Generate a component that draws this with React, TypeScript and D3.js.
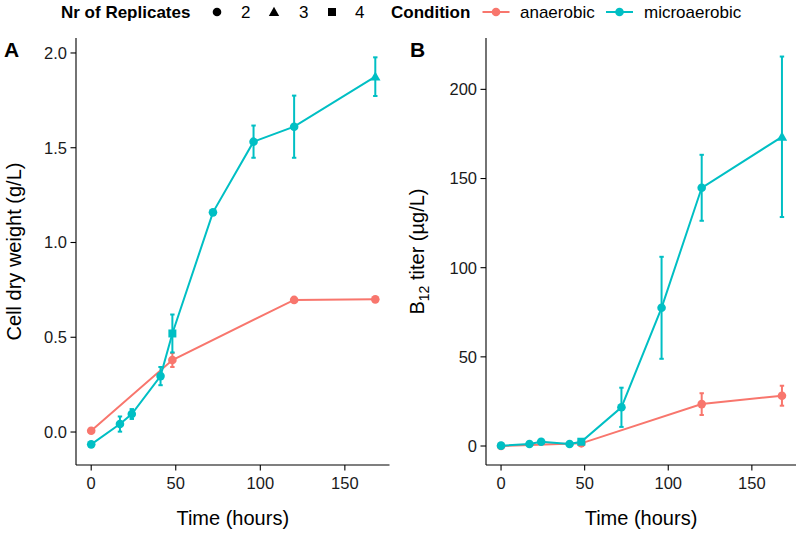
import React from "react";
import * as d3 from "d3";

// ---- data ----
const timesMicro = [0, 17, 24, 41, 48, 72, 96, 120, 168];
const timesAnaer = [0, 48, 120, 168];
const repsMicro = [2, 2, 2, 2, 4, 2, 2, 2, 3];
const repsAnaer = [2, 2, 2, 2];

const cdwMicro = [-0.065, 0.042, 0.095, 0.295, 0.52, 1.159, 1.532, 1.611, 1.875];
const cdwMicroErr = [0.005, 0.04, 0.026, 0.048, 0.1, 0.006, 0.085, 0.164, 0.102];
const cdwAnaer = [0.007, 0.38, 0.697, 0.7];
const cdwAnaerErr = [0.004, 0.037, 0.005, 0.007];

const b12Micro = [0.2, 1.1, 2.4, 1.1, 2.4, 21.7, 77.5, 144.8, 173.4];
const b12MicroErr = [0.3, 0.5, 0.8, 0.5, 0.8, 11, 28.6, 18.5, 45];
const b12Anaer = [0, 1.5, 23.5, 28.2];
const b12AnaerErr = [0.2, 0.5, 6.1, 5.6];

const xTicks = [0, 50, 100, 150];
const yTicksA = [0, 0.5, 1.0, 1.5, 2.0];
const yTicksB = [0, 50, 100, 150, 200];

const conditions = ["anaerobic", "microaerobic"];
const replicateLevels = [2, 3, 4];

const COLORS: Record<string, string> = { anaerobic: "#F8766D", microaerobic: "#00BFC4" };
const FONT = "'Liberation Sans', Arial, Helvetica, sans-serif";

type Pt = { t: number; v: number; e: number; r: number };

function build(ts: number[], vs: number[], es: number[], rs: number[]): Pt[] {
  return ts.map((t, i) => ({ t, v: vs[i], e: es[i], r: rs[i] }));
}

function Shape({ r, x, y, color }: { r: number; x: number; y: number; color: string }) {
  if (r === 3) {
    const s = 5.2;
    const p = `M${x},${y - s}L${x + s},${y + s * 0.75}L${x - s},${y + s * 0.75}Z`;
    return <path d={p} fill={color} />;
  }
  if (r === 4) {
    return <rect x={x - 4} y={y - 4} width={8} height={8} fill={color} />;
  }
  return <circle cx={x} cy={y} r={4.3} fill={color} />;
}

function Panel(props: {
  x0: number; x1: number; yDomain: [number, number]; yTicks: number[];
  fmt: (v: number) => string; series: { cond: string; pts: Pt[] }[];
  tag: string; tagX: number; titleX: number; title: React.ReactNode;
}) {
  const { x0, x1, yDomain, yTicks, fmt, series, tag, tagX, titleX, title } = props;
  const top = 38, bottom = 465;
  const x = d3.scaleLinear().domain([-8.4, 176.4]).range([x0, x1]);
  const y = d3.scaleLinear().domain(yDomain).range([bottom, top]);
  const line = d3.line<Pt>().x(d => x(d.t)).y(d => y(d.v));
  const axisX = x0 - 1;
  return (
    <g>
      <text x={tagX} y={57} fontFamily={FONT} fontWeight="bold" fontSize={21}>{tag}</text>
      {/* axes */}
      <line x1={axisX} x2={axisX} y1={top} y2={bottom} stroke="#000" strokeWidth={1.1} />
      <line x1={axisX} x2={x1} y1={bottom} y2={bottom} stroke="#000" strokeWidth={1.1} />
      {yTicks.map(t => (
        <g key={"y" + t}>
          <line x1={axisX - 5.5} x2={axisX} y1={y(t)} y2={y(t)} stroke="#000" strokeWidth={1.1} />
          <text x={axisX - 9} y={y(t)} dy="0.36em" textAnchor="end" fontFamily={FONT} fontSize={16.5} fill="#1a1a1a">{fmt(t)}</text>
        </g>
      ))}
      {xTicks.map(t => (
        <g key={"x" + t}>
          <line x1={x(t)} x2={x(t)} y1={bottom} y2={bottom + 5.5} stroke="#000" strokeWidth={1.1} />
          <text x={x(t)} y={489} textAnchor="middle" fontFamily={FONT} fontSize={16.5} fill="#1a1a1a">{t}</text>
        </g>
      ))}
      <text x={(axisX + x1) / 2} y={525} textAnchor="middle" fontFamily={FONT} fontSize={20}>Time (hours)</text>
      <text transform={`translate(${titleX},${(top + bottom) / 2}) rotate(-90)`} textAnchor="middle" fontFamily={FONT} fontSize={20}>{title}</text>
      {/* data */}
      {series.map(s => (
        <g key={s.cond}>
          <path d={line(s.pts) || ""} fill="none" stroke={COLORS[s.cond]} strokeWidth={2} />
          {s.pts.map((p, i) => (
            <g key={i}>
              <line x1={x(p.t)} x2={x(p.t)} y1={y(p.v - p.e)} y2={y(p.v + p.e)} stroke={COLORS[s.cond]} strokeWidth={2} />
              <line x1={x(p.t) - 2.2} x2={x(p.t) + 2.2} y1={y(p.v - p.e)} y2={y(p.v - p.e)} stroke={COLORS[s.cond]} strokeWidth={2} />
              <line x1={x(p.t) - 2.2} x2={x(p.t) + 2.2} y1={y(p.v + p.e)} y2={y(p.v + p.e)} stroke={COLORS[s.cond]} strokeWidth={2} />
            </g>
          ))}
          {s.pts.map((p, i) => (
            <Shape key={"s" + i} r={p.r} x={x(p.t)} y={y(p.v)} color={COLORS[s.cond]} />
          ))}
        </g>
      ))}
    </g>
  );
}

export default function App() {
  const seriesA = [
    { cond: conditions[0], pts: build(timesAnaer, cdwAnaer, cdwAnaerErr, repsAnaer) },
    { cond: conditions[1], pts: build(timesMicro, cdwMicro, cdwMicroErr, repsMicro) },
  ];
  const seriesB = [
    { cond: conditions[0], pts: build(timesAnaer, b12Anaer, b12AnaerErr, repsAnaer) },
    { cond: conditions[1], pts: build(timesMicro, b12Micro, b12MicroErr, repsMicro) },
  ];
  const legendY = 18;
  const keyY = legendY - 6;
  const shapeX = [217, 274, 332];
  const labelX = [241, 299, 355];
  const condKeyX = [496, 619.5];
  const condLabelX = [520, 644];
  return (
    <svg width={797} height={533} style={{ position: "absolute", left: 0, top: 0, background: "#fff" }}>
      <rect width={797} height={533} fill="#fff" />
      {/* legend */}
      <text x={61} y={legendY} fontFamily={FONT} fontWeight="bold" fontSize={17}>Nr of Replicates</text>
      {replicateLevels.map((r, i) => (
        <g key={r}>
          <Shape r={r} x={shapeX[i]} y={keyY} color="#000" />
          <text x={labelX[i]} y={legendY} fontFamily={FONT} fontSize={17}>{r}</text>
        </g>
      ))}
      <text x={391} y={legendY} fontFamily={FONT} fontWeight="bold" fontSize={17}>Condition</text>
      {conditions.map((c, i) => (
        <g key={c}>
          <line x1={condKeyX[i] - 13.5} x2={condKeyX[i] + 13.5} y1={keyY} y2={keyY} stroke={COLORS[c]} strokeWidth={2} />
          <circle cx={condKeyX[i]} cy={keyY} r={4.3} fill={COLORS[c]} />
          <text x={condLabelX[i]} y={legendY} fontFamily={FONT} fontSize={17}>{c}</text>
        </g>
      ))}
      <Panel
        x0={77} x1={389.5} yDomain={[-0.174, 2.079]} yTicks={yTicksA}
        fmt={d3.format(".1f")} series={seriesA} tag="A" tagX={4} titleX={21}
        title="Cell dry weight (g/L)"
      />
      <Panel
        x0={487} x1={796} yDomain={[-10.65, 228.8]} yTicks={yTicksB}
        fmt={d3.format("d")} series={seriesB} tag="B" tagX={410} titleX={424}
        title={<>B<tspan fontSize={14} dy={5}>12</tspan><tspan dy={-5}> titer (µg/L)</tspan></>}
      />
    </svg>
  );
}
